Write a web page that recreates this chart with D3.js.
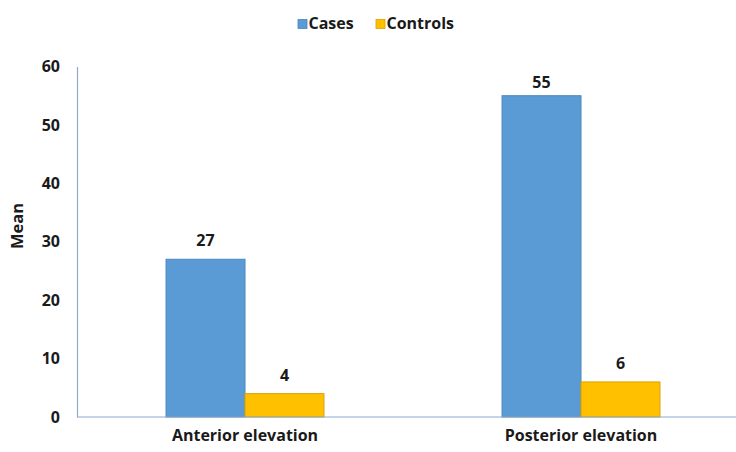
<!DOCTYPE html>
<html><head><meta charset="utf-8">
<script src="https://cdn.jsdelivr.net/npm/d3@7"></script>
<style>body{margin:0;background:#fff}svg{display:block}text{font-family:"Open Sans",Lato,sans-serif;font-weight:bold;fill:#1a1a1a}</style>
</head><body>
<svg id="chart" width="736" height="452"></svg>
<script>
const categories = ["Anterior elevation", "Posterior elevation"];
const seriesNames = ["Cases", "Controls"];
const cases = [27, 55];
const controls = [4, 6];
const yTicks = [0, 10, 20, 30, 40, 50, 60];
const colors = ["#5B9BD5", "#FFC000"];
const strokes = ["#4A86BE", "#D9A200"];

const svg = d3.select("#chart");
const x0 = d3.scaleBand().domain(categories).range([77, 749]).paddingInner(0.53).paddingOuter(0.265);
const x1 = d3.scaleBand().domain(seriesNames).range([0, x0.bandwidth()]);
const y = d3.scaleLinear().domain([0, 60]).range([417, 66.5]);

// axes
const yAxis = svg.append("g").attr("transform", "translate(77,0)")
  .call(d3.axisLeft(y).tickValues(yTicks).tickSize(0).tickPadding(17));
yAxis.select(".domain").attr("stroke", "#8FAACC").attr("stroke-width", 1.2);
yAxis.selectAll("text").attr("font-size", 16).attr("fill", "#1a1a1a").style("font-family", "'Open Sans', sans-serif").style("font-weight", "bold");

const data = categories.map((c, i) => ({cat: c, vals: [cases[i], controls[i]]}));
const g = svg.append("g");
data.forEach(d => {
  d.vals.forEach((v, j) => {
    const xx = x0(d.cat) + x1(seriesNames[j]);
    g.append("rect").attr("x", xx).attr("y", y(v)).attr("width", x1.bandwidth()).attr("height", y(0) - y(v))
      .attr("fill", colors[j]).attr("stroke", strokes[j]).attr("stroke-width", 1);
    g.append("text").attr("x", xx + x1.bandwidth() / 2).attr("y", Math.max(y(v) - 13, y(60) + 21.5)).attr("text-anchor", "middle")
      .attr("font-size", 16).text(v);
  });
});

const xAxis = svg.append("g").attr("transform", "translate(0,417)")
  .call(d3.axisBottom(x0).tickSize(0).tickPadding(13));
xAxis.select(".domain").remove();
svg.append("line").attr("x1", 77).attr("x2", 736).attr("y1", 417).attr("y2", 417).attr("stroke", "#8FAACC").attr("stroke-width", 1.2);
xAxis.selectAll("text").attr("font-size", 16).attr("fill", "#1a1a1a").style("font-family", "'Open Sans', sans-serif").style("font-weight", "bold");

// y label
svg.append("text").attr("transform", "translate(23,226) rotate(-90)").attr("text-anchor", "middle").attr("font-size", 16.5).text("Mean");

// legend
const legend = svg.append("g");
const legX = [298, 376];
seriesNames.forEach((s, j) => {
  legend.append("rect").attr("x", legX[j]).attr("y", 19.5).attr("width", 9).attr("height", 9).attr("fill", colors[j]).attr("stroke", strokes[j]).attr("stroke-width", 0.8);
  legend.append("text").attr("x", legX[j] + 10.5).attr("y", 29).attr("font-size", 16).text(s);
});
</script>
</body></html>
